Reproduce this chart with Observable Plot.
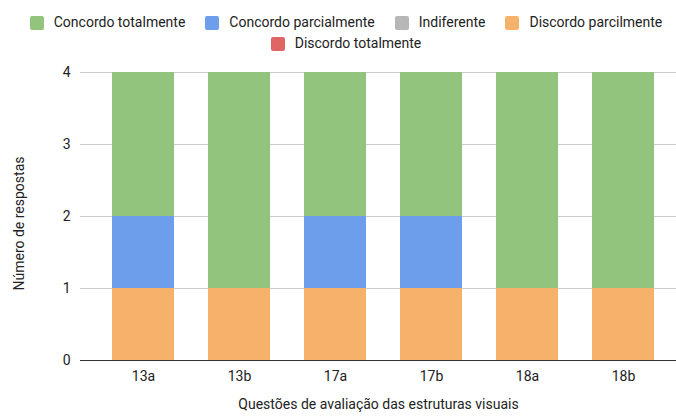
<!DOCTYPE html>
<html>
<head>
<meta charset="utf-8">
<script src="https://cdn.jsdelivr.net/npm/d3@7"></script>
<script src="https://cdn.jsdelivr.net/npm/@observablehq/plot@0.6"></script>
<style>
  html, body { margin: 0; padding: 0; background: #fff; }
  #chart { width: 676px; height: 416px; font-family: Roboto, "Liberation Sans", Arial, sans-serif; color: #222; }
  #legend {
    box-sizing: border-box; width: 676px; height: 60px; padding: 12px 0 0 16px;
    display: flex; flex-wrap: wrap; justify-content: center; align-content: flex-start;
    font-size: 14px; line-height: 21px;
  }
  .item { display: flex; align-items: center; margin: 0 10px; white-space: nowrap; }
  .sw { width: 14px; height: 14px; border-radius: 2px; margin-right: 10px; }
  svg { display: block; }
</style>
</head>
<body>
<div id="chart"><div id="legend"></div></div>
<script>
// Questions (x categories)
const questoes = ["13a", "13b", "17a", "17b", "18a", "18b"];

// Answer counts per question, one array per answer option
const concordoTotalmente   = [2, 3, 2, 2, 3, 3];
const concordoParcialmente = [1, 0, 1, 1, 0, 0];
const indiferente          = [0, 0, 0, 0, 0, 0];
const discordoParcilmente  = [1, 1, 1, 1, 1, 1];
const discordoTotalmente   = [0, 0, 0, 0, 0, 0];

// Legend order and colours
const opcoes = ["Concordo totalmente", "Concordo parcialmente", "Indiferente", "Discordo parcilmente", "Discordo totalmente"];
const cores  = ["#93c47d", "#6d9eeb", "#b7b7b7", "#f6b26b", "#e06666"];
const valores = [concordoTotalmente, concordoParcialmente, indiferente, discordoParcilmente, discordoTotalmente];

// Stacking order, bottom to top
const ordemPilha = ["Discordo totalmente", "Discordo parcilmente", "Indiferente", "Concordo parcialmente", "Concordo totalmente"];

const yTicks = [0, 1, 2, 3, 4];

const dados = opcoes.flatMap((op, i) => questoes.map((q, j) => ({questao: q, opcao: op, n: valores[i][j]})));

// Legend
const legend = document.getElementById("legend");
opcoes.forEach((op, i) => {
  const it = document.createElement("div");
  it.className = "item";
  const sw = document.createElement("div");
  sw.className = "sw";
  sw.style.background = cores[i];
  const t = document.createElement("span");
  t.textContent = op;
  it.append(sw, t);
  legend.append(it);
});

const plot = Plot.plot({
  width: 676,
  height: 356,
  marginTop: 12,
  marginBottom: 56,
  marginLeft: 80,
  marginRight: 0,
  insetLeft: 15,
  insetRight: 5,
  style: {fontFamily: "Roboto, 'Liberation Sans', Arial, sans-serif", fontSize: "14px", color: "#222"},
  x: {domain: questoes, paddingInner: 0.354, paddingOuter: 0.177, label: null},
  y: {domain: [0, 4], label: null},
  color: {domain: opcoes, range: cores},
  marks: [
    Plot.ruleY(yTicks.filter(d => d > 0), {stroke: "#cccccc", strokeWidth: 1}),
    Plot.barY(dados, Plot.stackY({
      x: "questao", y: "n", fill: "opcao",
      order: ordemPilha
    })),
    Plot.ruleY([0], {stroke: "#333333", strokeWidth: 1}),
    Plot.axisY({ticks: yTicks, tickSize: 0, tickPadding: 10, tickFormat: d => d, label: null, fontSize: 14}),
    Plot.axisX({tickSize: 0, tickPadding: 11, label: null, fontSize: 14}),
    Plot.text(["Questões de avaliação das estruturas visuais"], {
      frameAnchor: "bottom", dy: 48, text: d => d, fontSize: 14, fill: "#222"
    }),
    Plot.text(["Número de respostas"], {
      frameAnchor: "left", textAnchor: "middle", dx: -61, dy: 7, rotate: -90, text: d => d, fontSize: 14, fill: "#222"
    })
  ]
});
document.getElementById("chart").append(plot);
</script>
</body>
</html>
